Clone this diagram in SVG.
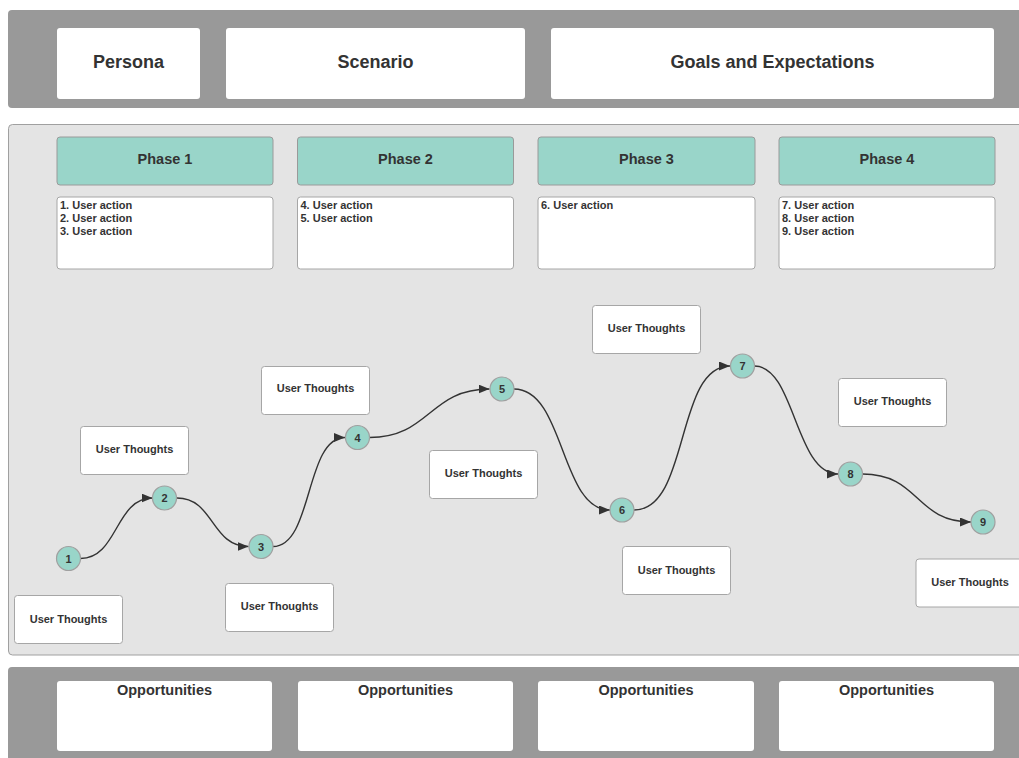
<svg xmlns="http://www.w3.org/2000/svg" width="1019" height="758" viewBox="0 0 1019 758">
  <style>
    .band { fill: #999999; }
    .panel { fill: #e4e4e4; stroke: #a0a0a0; stroke-width: 1; }
    .card { fill: #ffffff; stroke: #a6a6a6; stroke-width: 1; }
    .plain { fill: #ffffff; }
    .phase { fill: #99d5c9; stroke: #9a9a9a; stroke-width: 1; }
    .step { fill: #99d5c9; stroke: #a0a0a0; stroke-width: 1.2; }
    text { font-family: "Liberation Sans", Arial, sans-serif; font-weight: bold; fill: #333333; }
    .h1 { font-size: 18px; text-anchor: middle; }
    .h2 { font-size: 14.5px; text-anchor: middle; }
    .act { font-size: 11px; }
    .th { font-size: 11px; text-anchor: middle; }
    .num { font-size: 11px; text-anchor: middle; }
    .link { fill: none; stroke: #333333; stroke-width: 1.4; }
  </style>
  <defs>
    <marker id="arrow" markerUnits="userSpaceOnUse" markerWidth="12" markerHeight="10" refX="11" refY="4.5" orient="auto">
      <path d="M0,0 L11,4.5 L0,9 Z" fill="#333333"/>
    </marker>
  </defs>

  <rect width="1019" height="758" fill="#ffffff"/>

  <!-- header band -->
  <g id="header">
    <rect class="band" x="8" y="10" width="1030" height="98" rx="4"/>
    <g id="persona">
      <rect class="plain" x="57" y="28" width="143" height="71" rx="3"/>
      <text class="h1" x="128.5" y="68">Persona</text>
    </g>
    <g id="scenario">
      <rect class="plain" x="226" y="28" width="299" height="71" rx="3"/>
      <text class="h1" x="375.5" y="68">Scenario</text>
    </g>
    <g id="goals">
      <rect class="plain" x="551" y="28" width="443" height="71" rx="3"/>
      <text class="h1" x="772.5" y="68">Goals and Expectations</text>
    </g>
  </g>

  <!-- journey panel -->
  <rect class="panel" x="8.5" y="124.5" width="1030" height="530.5" rx="4"/>

  <g id="phase1">
    <rect class="phase" x="57" y="137" width="216" height="48" rx="3"/>
    <text class="h2" x="165" y="164">Phase 1</text>
  </g>
  <g id="phase2">
    <rect class="phase" x="297.5" y="137" width="216" height="48" rx="3"/>
    <text class="h2" x="405.5" y="164">Phase 2</text>
  </g>
  <g id="phase3">
    <rect class="phase" x="538" y="137" width="217" height="48" rx="3"/>
    <text class="h2" x="646.5" y="164">Phase 3</text>
  </g>
  <g id="phase4">
    <rect class="phase" x="779" y="137" width="216" height="48" rx="3"/>
    <text class="h2" x="887" y="164">Phase 4</text>
  </g>

  <g id="actions1">
    <rect class="card" x="57" y="197" width="216" height="72" rx="3"/>
    <text class="act" x="60" y="209">1. User action</text>
    <text class="act" x="60" y="222">2. User action</text>
    <text class="act" x="60" y="235">3. User action</text>
  </g>
  <g id="actions2">
    <rect class="card" x="297.5" y="197" width="216" height="72" rx="3"/>
    <text class="act" x="300.5" y="209">4. User action</text>
    <text class="act" x="300.5" y="222">5. User action</text>
  </g>
  <g id="actions3">
    <rect class="card" x="538" y="197" width="217" height="72" rx="3"/>
    <text class="act" x="541" y="209">6. User action</text>
  </g>
  <g id="actions4">
    <rect class="card" x="779" y="197" width="216" height="72" rx="3"/>
    <text class="act" x="782" y="209">7. User action</text>
    <text class="act" x="782" y="222">8. User action</text>
    <text class="act" x="782" y="235">9. User action</text>
  </g>

  <!-- thought cards -->
  <g id="thought1">
    <rect class="card" x="14.5" y="595.5" width="108" height="48" rx="3"/>
    <text class="th" x="68.5" y="623">User Thoughts</text>
  </g>
  <g id="thought2">
    <rect class="card" x="80.5" y="426.5" width="108" height="48" rx="3"/>
    <text class="th" x="134.5" y="453">User Thoughts</text>
  </g>
  <g id="thought3">
    <rect class="card" x="225.5" y="583.5" width="108" height="48" rx="3"/>
    <text class="th" x="279.5" y="610">User Thoughts</text>
  </g>
  <g id="thought4">
    <rect class="card" x="261.5" y="366.5" width="108" height="48" rx="3"/>
    <text class="th" x="315.5" y="392">User Thoughts</text>
  </g>
  <g id="thought5">
    <rect class="card" x="429.5" y="450.5" width="108" height="48" rx="3"/>
    <text class="th" x="483.5" y="477">User Thoughts</text>
  </g>
  <g id="thought6">
    <rect class="card" x="592.5" y="305.5" width="108" height="48" rx="3"/>
    <text class="th" x="646.5" y="332">User Thoughts</text>
  </g>
  <g id="thought7">
    <rect class="card" x="622.5" y="546.5" width="108" height="48" rx="3"/>
    <text class="th" x="676.5" y="573.5">User Thoughts</text>
  </g>
  <g id="thought8">
    <rect class="card" x="838.5" y="378.5" width="108" height="48" rx="3"/>
    <text class="th" x="892.5" y="404.5">User Thoughts</text>
  </g>
  <g id="thought9">
    <rect class="card" x="916" y="559" width="108" height="48" rx="3"/>
    <text class="th" x="970" y="585.5">User Thoughts</text>
  </g>

  <!-- journey curve -->
  <g id="connectors">
    <path class="link" marker-end="url(#arrow)" d="M80.5,558.5 C118,558.5 115,498 152.5,498"/>
    <path class="link" marker-end="url(#arrow)" d="M177,498 C214,498 211,546.5 248.5,546.5"/>
    <path class="link" marker-end="url(#arrow)" d="M273,546.5 C313,546.5 305,437.5 345,437.5"/>
    <path class="link" marker-end="url(#arrow)" d="M369.5,437.5 C430,437.5 429,389 489.5,389"/>
    <path class="link" marker-end="url(#arrow)" d="M514,389 C565,389 560,510 610,510"/>
    <path class="link" marker-end="url(#arrow)" d="M634,510 C690,510 675,366 730,366"/>
    <path class="link" marker-end="url(#arrow)" d="M754.5,366 C795,366 795,474 838,474"/>
    <path class="link" marker-end="url(#arrow)" d="M862.5,474 C920,474 915,522 971,522"/>
  </g>

  <!-- journey steps -->
  <g id="step1"><circle class="step" cx="68.5" cy="558.5" r="12"/><text class="num" x="68.5" y="562.5">1</text></g>
  <g id="step2"><circle class="step" cx="164.5" cy="498" r="12"/><text class="num" x="164.5" y="502">2</text></g>
  <g id="step3"><circle class="step" cx="261" cy="546.5" r="12"/><text class="num" x="261" y="550.5">3</text></g>
  <g id="step4"><circle class="step" cx="357.5" cy="437.5" r="12"/><text class="num" x="357.5" y="441.5">4</text></g>
  <g id="step5"><circle class="step" cx="502" cy="389" r="12"/><text class="num" x="502" y="393">5</text></g>
  <g id="step6"><circle class="step" cx="622" cy="510" r="12"/><text class="num" x="622" y="514">6</text></g>
  <g id="step7"><circle class="step" cx="742.5" cy="366" r="12"/><text class="num" x="742.5" y="370">7</text></g>
  <g id="step8"><circle class="step" cx="850.5" cy="474" r="12"/><text class="num" x="850.5" y="478">8</text></g>
  <g id="step9"><circle class="step" cx="983" cy="522" r="12"/><text class="num" x="983" y="526">9</text></g>

  <!-- opportunities band -->
  <g id="footer">
    <rect class="band" x="8" y="667" width="1030" height="100" rx="4"/>
    <g id="opp1">
      <rect class="plain" x="57" y="681" width="215" height="70" rx="3"/>
      <text class="h2" x="164.5" y="695">Opportunities</text>
    </g>
    <g id="opp2">
      <rect class="plain" x="298" y="681" width="215" height="70" rx="3"/>
      <text class="h2" x="405.5" y="695">Opportunities</text>
    </g>
    <g id="opp3">
      <rect class="plain" x="538" y="681" width="216" height="70" rx="3"/>
      <text class="h2" x="646" y="695">Opportunities</text>
    </g>
    <g id="opp4">
      <rect class="plain" x="779" y="681" width="215" height="70" rx="3"/>
      <text class="h2" x="886.5" y="695">Opportunities</text>
    </g>
  </g>
</svg>
